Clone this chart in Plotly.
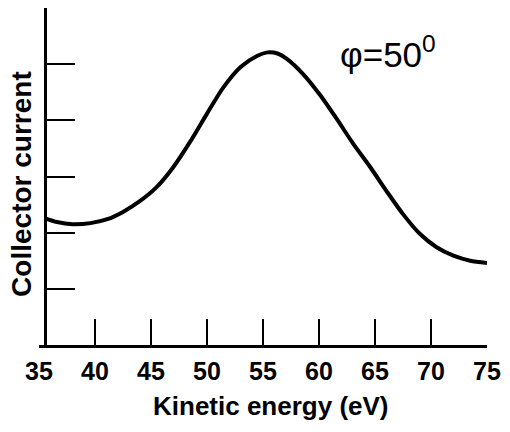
import plotly.graph_objects as go

# Data
energy_ev = [35.5, 36.6, 38.0, 39.6, 41.1, 42.5, 44.0, 45.5, 47.0, 48.5, 50.0,
             51.4, 53.0, 54.5, 55.4, 56.3, 57.1, 58.6, 60.1, 61.6, 63.0, 64.6,
             66.1, 67.5, 69.0, 70.5, 72.0, 73.5, 75.0]
collector_current = [2.26, 2.19, 2.15, 2.17, 2.24, 2.37, 2.56, 2.81, 3.17, 3.62, 4.12,
                     4.57, 4.95, 5.15, 5.21, 5.19, 5.10, 4.82, 4.45, 4.02, 3.60, 3.16,
                     2.72, 2.33, 1.98, 1.74, 1.59, 1.50, 1.46]
x_label_vals = [35, 40, 45, 50, 55, 60, 65, 70, 75]
x_tick_vals = [40, 45, 50, 55, 60, 65, 70]
y_tick_vals = [1, 2, 3, 4, 5]

FONT = "Liberation Sans, Arial, sans-serif"

fig = go.Figure()
fig.add_trace(go.Scatter(
    x=energy_ev, y=collector_current, mode="lines",
    line=dict(color="black", width=4, shape="spline", smoothing=0.7),
    hoverinfo="skip", showlegend=False,
))
# invisible trace on the overlay axis that carries the inside x ticks
fig.add_trace(go.Scatter(x=[35, 75], y=[0, 0], xaxis="x2", mode="lines",
                         line=dict(width=0, color="rgba(0,0,0,0)"),
                         hoverinfo="skip", showlegend=False))

fig.update_layout(
    width=510, height=432,
    margin=dict(l=39, r=23, t=8, b=87),
    paper_bgcolor="white", plot_bgcolor="white",
    xaxis=dict(range=[35, 75], tickvals=x_label_vals, ticktext=[str(v) for v in x_label_vals],
               ticks="", showgrid=False, zeroline=False, showline=True,
               linecolor="black", linewidth=3,
               tickfont=dict(family=FONT, size=25, color="black", weight="bold"),
               ticklabelstandoff=2),
    xaxis2=dict(range=[35, 75], overlaying="x", anchor="y", side="bottom",
                tickvals=x_tick_vals, ticks="inside", ticklen=26, tickwidth=2,
                tickcolor="black", showticklabels=False, showgrid=False,
                zeroline=False, showline=False),
    yaxis=dict(range=[0, 6], tickvals=y_tick_vals, ticks="inside", ticklen=28,
               tickwidth=2, tickcolor="black", showticklabels=False,
               showgrid=False, zeroline=False, showline=True, linecolor="black",
               linewidth=3, anchor="free", position=0.0134),
    annotations=[
        dict(text="Kinetic energy (eV)", x=0.517, y=-0.181, xref="paper", yref="paper",
             xanchor="center", yanchor="middle", showarrow=False,
             font=dict(family=FONT, size=26, color="black", weight="bold")),
        dict(text="Collector current", x=-0.038, y=0.478, xref="paper", yref="paper",
             xanchor="center", yanchor="middle", textangle=-90, showarrow=False,
             font=dict(family=FONT, size=28, color="black", weight="bold")),
        dict(text="φ=50<sup>0</sup>", x=61.7, y=5.22, xref="x", yref="y",
             xanchor="left", yanchor="middle", showarrow=False,
             font=dict(family=FONT, size=35, color="black")),
    ],
)

fig.write_html("out.html", config={"displayModeBar": False},
               post_script="document.body.style.margin='0';")
